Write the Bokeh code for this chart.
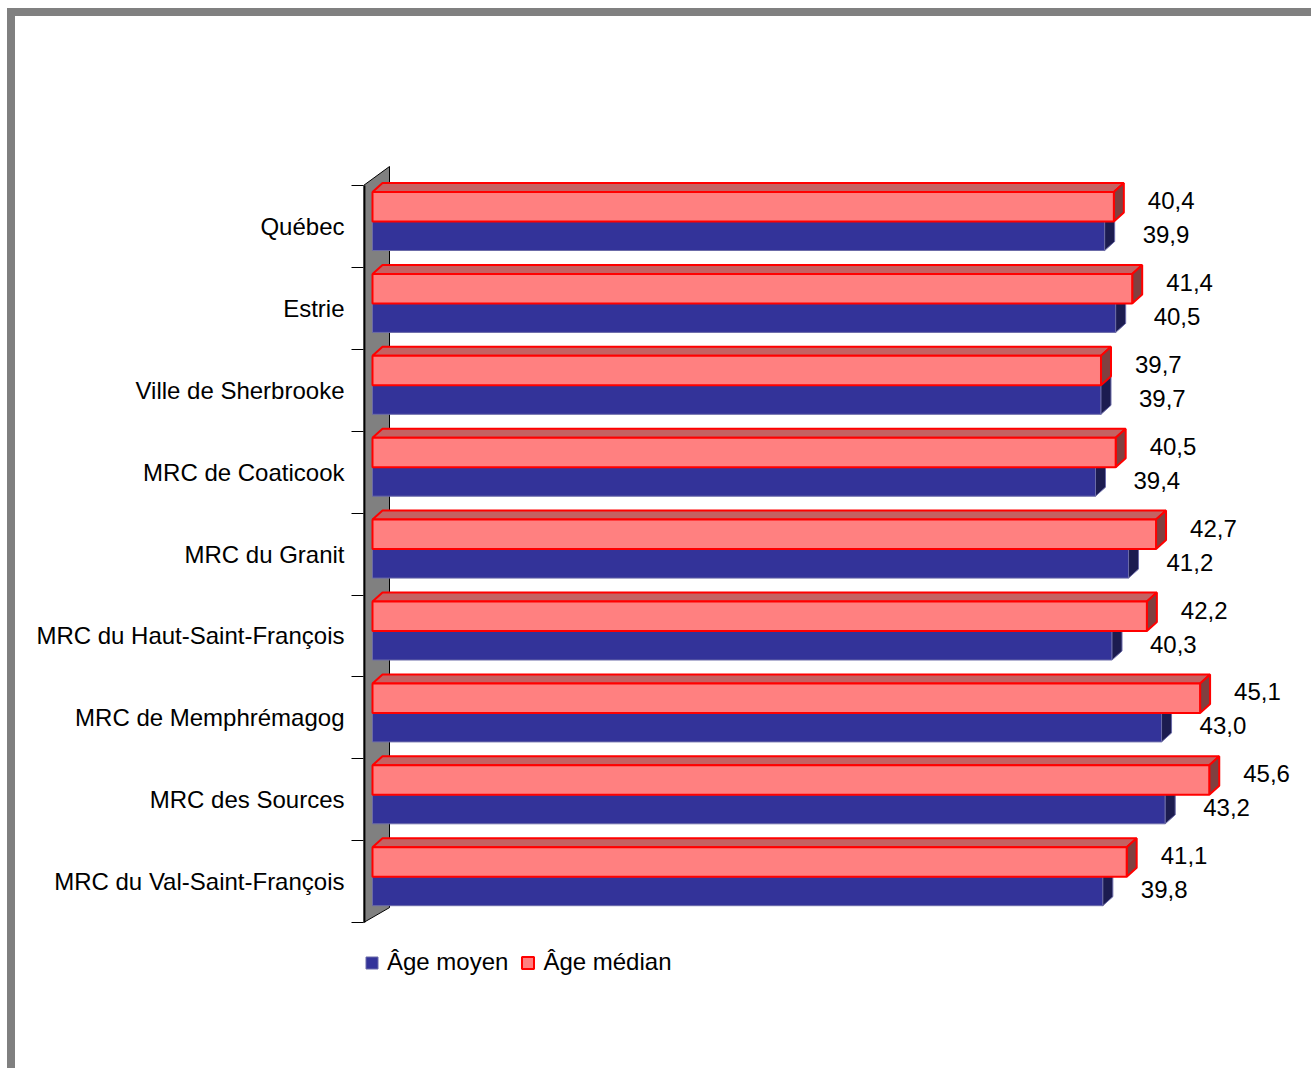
from bokeh.plotting import figure
from bokeh.models import Range1d, FixedTicker, Legend, LegendItem, ColumnDataSource
from bokeh.core.properties import value
from bokeh.embed import file_html
from bokeh.resources import INLINE

# ---- data ----
categories = ["Québec", "Estrie", "Ville de Sherbrooke", "MRC de Coaticook",
              "MRC du Granit", "MRC du Haut-Saint-François", "MRC de Memphrémagog",
              "MRC des Sources", "MRC du Val-Saint-François"]
age_moyen = [39.9, 40.5, 39.7, 39.4, 41.2, 40.3, 43.0, 43.2, 39.8]
age_median = [40.4, 41.4, 39.7, 40.5, 42.7, 42.2, 45.1, 45.6, 41.1]
series_names = ["Âge moyen", "Âge médian"]

# ---- geometry (pixels) ----
W, H = 1304, 1060          # figure size used by the layout (border included)
FRAME_L, FRAME_T = 348, 144
PX_X = 18.35          # px per year
PX_Y = 81.9           # px per category
X0 = -9 / PX_X
X1 = X0 + (W - FRAME_L) / PX_X
Y_TOP = -0.5 - 25 / PX_Y
Y_BOT = Y_TOP + (H - FRAME_T) / PX_Y

PINK_T, MID, BLUE_B = 6.5 / PX_Y, 36 / PX_Y, 65 / PX_Y
DX, DY = 10 / PX_X, -9 / PX_Y
FONT = "Liberation Sans"
FS = "24px"

p = figure(width=W, height=H, x_range=Range1d(X0, X1),
           y_range=Range1d(Y_BOT, Y_TOP),
           x_axis_location=None, toolbar_location=None, output_backend="svg",
           min_border_left=FRAME_L, min_border_top=FRAME_T, min_border_right=0,
           min_border_bottom=0)
p.styles = {"border-left": "8px solid #808080", "border-top": "8px solid #808080",
            "margin-left": "7px", "margin-top": "8px", "overflow": "hidden"}
p.xgrid.visible = False
p.ygrid.visible = False
p.outline_line_color = None
p.background_fill_color = "white"
p.border_fill_color = "white"

n = len(categories)
centers = list(range(n))
bounds = [k - 0.5 for k in range(n + 1)]

# wall
wall_xb = (390 - 373) / PX_X
p.patch([X0, wall_xb, wall_xb, X0],
        [-0.5, -0.5 - 19 / PX_Y, n - 0.5 - 15 / PX_Y, n - 0.5],
        fill_color="#808080", line_color="black", line_width=1)
p.line([X0 + 0.05, X0 + 0.05], [-0.5, n - 0.5], line_color="black", line_width=2)

# y axis
ax = p.yaxis[0]
ax.ticker = FixedTicker(ticks=centers, minor_ticks=bounds)
ax.major_label_overrides = {k: c for k, c in enumerate(categories)}
ax.axis_line_color = None
ax.major_tick_line_color = None
ax.major_tick_out = 0
ax.major_tick_in = 0
ax.minor_tick_out = 12
ax.minor_tick_in = 0
ax.minor_tick_line_color = "black"
ax.minor_tick_line_width = 1
ax.major_label_standoff = 7
ax.major_label_text_font = FONT
ax.major_label_text_font_size = FS
ax.major_label_text_color = "black"

b = [k - 0.5 for k in range(n)]

# blue (Âge moyen)
blue_src = ColumnDataSource(dict(
    left=[0] * n, right=age_moyen,
    top=[bb + MID for bb in b], bottom=[bb + BLUE_B for bb in b]))
blue_front = p.quad(left="left", right="right", top="top", bottom="bottom", source=blue_src,
                    fill_color="#333399", line_color="#6B6BA8", line_width=1)
p.patches([[v, v + DX, v + DX, v] for v in age_moyen],
          [[bb + MID, bb + MID + DY, bb + BLUE_B + DY, bb + BLUE_B] for bb in b],
          fill_color="#1C1C50", line_color="#6B6BA8", line_width=1)

# pink (Âge médian)
pink_src = ColumnDataSource(dict(
    left=[0] * n, right=age_median,
    top=[bb + PINK_T for bb in b], bottom=[bb + MID for bb in b]))
p.patches([[0, v, v + DX, DX] for v in age_median],
          [[bb + PINK_T, bb + PINK_T, bb + PINK_T + DY, bb + PINK_T + DY] for bb in b],
          fill_color="#C46262", line_color="#FF0000", line_width=2)
p.patches([[v, v + DX, v + DX, v] for v in age_median],
          [[bb + PINK_T, bb + PINK_T + DY, bb + MID + DY, bb + MID] for bb in b],
          fill_color="#804040", line_color="#FF0000", line_width=2)
pink_front = p.quad(left="left", right="right", top="top", bottom="bottom", source=pink_src,
                    fill_color="#FF8080", line_color="#FF0000", line_width=2)

# value labels
fmt = lambda v: f"{v:.1f}".replace(".", ",")
p.text(x=age_median, y=[bb + 15 / PX_Y for bb in b], text=[fmt(v) for v in age_median],
       x_offset=34, text_baseline="middle", text_align="left",
       text_font=value(FONT), text_font_size=FS, text_color="black")
p.text(x=age_moyen, y=[bb + 49 / PX_Y for bb in b], text=[fmt(v) for v in age_moyen],
       x_offset=38, text_baseline="middle", text_align="left",
       text_font=value(FONT), text_font_size=FS, text_color="black")

legend = Legend(items=[LegendItem(label=series_names[0], renderers=[blue_front]),
                       LegendItem(label=series_names[1], renderers=[pink_front])],
                orientation="horizontal", location=(1, 100),
                glyph_width=15, glyph_height=15, label_standoff=8, spacing=12,
                padding=0, margin=0, border_line_color=None, background_fill_alpha=0,
                label_text_font=FONT, label_text_font_size=FS, label_text_color="black")
p.add_layout(legend, "center")

open("out.html", "w").write(file_html(p, INLINE))
